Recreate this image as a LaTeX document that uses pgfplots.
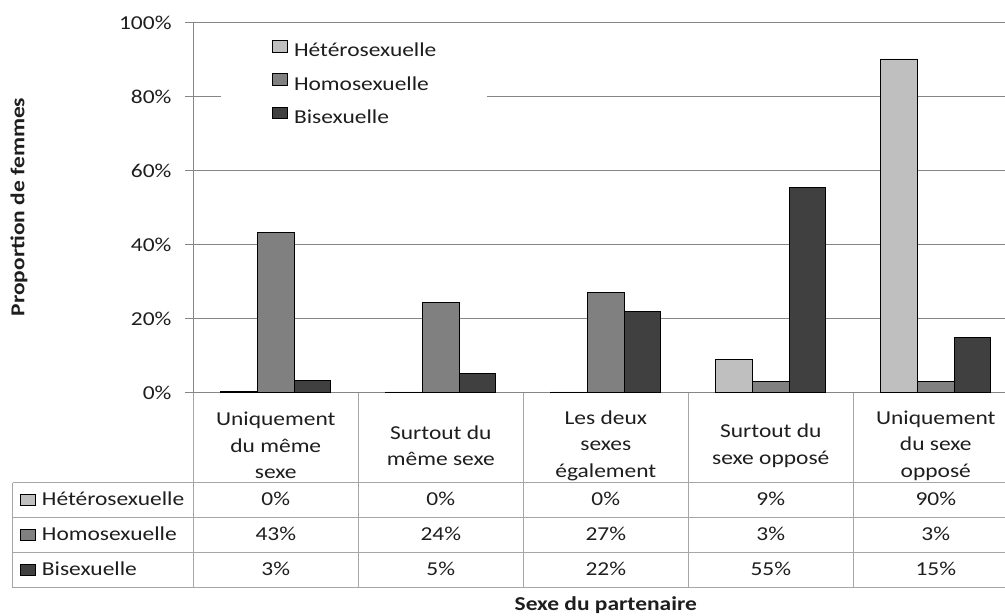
\documentclass[border=0pt]{standalone}
\usepackage{fontspec}
\setmainfont{Carlito}[FakeStretch=1.19]
\usepackage{pgfplots}
\usepackage{pgfplotstable}
\pgfplotsset{compat=1.18}

\definecolor{het}{RGB}{191,191,191}
\definecolor{hom}{RGB}{128,128,128}
\definecolor{bis}{RGB}{64,64,64}
\definecolor{gridc}{RGB}{134,134,134}
\definecolor{tabc}{RGB}{166,166,166}
\definecolor{txt}{RGB}{30,30,30}

\newcommand\fs{\fontsize{19.7}{26.5}\selectfont}

% proportion of women (%), one row per category
\pgfplotstableread{
x   het  hom  bi
0.5 0.4  43.2 3.2
1.5 0.2  24.4 5.1
2.5 0.2  27.2 21.9
3.5 9.1  3.0  55.4
4.5 90.2 3.0  15.0
}\data

\begin{document}
\fs
\begin{tikzpicture}[font=\fs, text=txt]
\begin{axis}[
  at={(193.3pt,-392.7pt)}, anchor=south west,
  scale only axis, width=825pt, height=370pt,
  xmin=0, xmax=5, ymin=0, ymax=100,
  axis lines*=left,
  axis line style={gridc, line width=1pt},
  ybar=0pt, bar width=36.7pt,
  xtick={0.5,1.5,2.5,3.5,4.5},
  xticklabels={{Uniquement\\du même\\sexe},{Surtout du\\même sexe},{Les deux\\sexes\\également},{Surtout du\\sexe opposé},{Uniquement\\du sexe\\opposé}},
  xticklabel style={align=center, anchor=center, yshift=-45pt, inner sep=0pt, font=\fs},
  x tick style={draw=none},
  ytick={0,20,...,100},
  yticklabel={\pgfmathprintnumber{\tick}\%},
  yticklabel style={anchor=east, inner sep=0pt, xshift=-21.6pt},
  y tick style={gridc, line width=1pt, xshift=-8pt},
  major tick length=8pt,
  ymajorgrids, grid style={gridc, line width=1pt},
  ylabel={\bfseries Proportion de femmes},
  ylabel style={at={(axis description cs:-0.2113,0.502)}, anchor=center},
  xlabel={\bfseries Sexe du partenaire},
  xlabel style={at={(axis description cs:0.5,-0.574)}, anchor=center},
  legend style={at={(0.0336,0.980)}, anchor=north west, draw=none, fill=white,
    inner xsep=51pt, inner ysep=10pt, row sep=11.5pt, column sep=6.7pt,
    nodes={inner sep=0pt, text height=14pt, text depth=5pt}},
  legend cell align=left,
  legend image code/.code={\draw[#1, line width=0.8pt] (0pt,0pt) rectangle (14.3pt,11.7pt);},
  /pgf/number format/assume math mode=true,
]
\addplot[fill=het, draw=black, line width=0.8pt] table[x=x, y=het]{\data};
\addplot[fill=hom, draw=black, line width=0.8pt] table[x=x, y=hom]{\data};
\addplot[fill=bis, draw=black, line width=0.8pt] table[x=x, y=bi]{\data};
\legend{Hétérosexuelle, Homosexuelle, Bisexuelle}
\end{axis}

% data table under the chart
\foreach \yy in {482.7,517.7,552.7,587.7}
  \draw[tabc, line width=1pt] (12.7pt,-\yy pt) -- (1018.3pt,-\yy pt);
\draw[tabc, line width=1pt] (12.7pt,-482.7pt) -- (12.7pt,-587.7pt);
\foreach \k in {0,...,5} {
  \pgfmathsetmacro\xx{193.3+165*\k}
  \draw[tabc, line width=1pt] (\xx pt,-392.7pt) -- (\xx pt,-587.7pt);
}
\foreach \col/\cc/\lab [count=\r from 0] in {het/het/Hétérosexuelle, hom/hom/Homosexuelle, bi/bis/Bisexuelle} {
  \pgfmathsetmacro\yb{-505.7-35*\r}
  \pgfmathsetmacro\yt{\yb+11.7}
  \draw[fill=\cc, draw=black, line width=0.8pt] (20.7pt,\yb pt) rectangle (35pt,\yt pt);
  \node[anchor=base west, inner sep=0pt] at (41.7pt,\yb pt) {\lab};
  \foreach \c in {0,...,4} {
    \pgfplotstablegetelem{\c}{\col}\of\data
    \pgfmathsetmacro\xc{275.8+165*\c}
    \node[anchor=base, inner sep=0pt] at (\xc pt,\yb pt)
      {\pgfmathprintnumber[fixed,precision=0,assume math mode=true]{\pgfplotsretval}\%};
  }
}

\pgfresetboundingbox
\useasboundingbox (0pt,0pt) rectangle (1005pt,-616pt);
\end{tikzpicture}
\end{document}
